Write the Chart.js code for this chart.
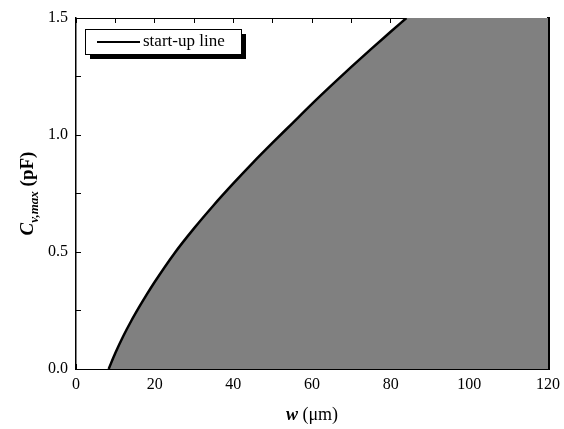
<!DOCTYPE html>
<html>
<head>
<meta charset="utf-8">
<script src="https://cdn.jsdelivr.net/npm/chart.js@4/dist/chart.umd.min.js"></script>
<style>
  body { margin: 0; background: #fff; }
</style>
</head>
<body>
<canvas id="startupChart" width="564" height="429"></canvas>
<script>
// values
var widths = [8.3, 10, 12, 14, 16, 18, 20, 25, 30, 35, 40, 45, 50, 55, 60, 65, 70, 75, 80, 84];
var cvMax  = [0, 0.068, 0.140, 0.204, 0.263, 0.319, 0.372, 0.494, 0.601, 0.700, 0.793, 0.882, 0.967, 1.050, 1.133, 1.213, 1.291, 1.367, 1.441, 1.5];
var seriesLabel = 'start-up line';
var xMin = 0, xMax = 120, xStep = 10, xLabelEvery = 20;
var yMin = 0, yMax = 1.5, yStep = 0.25, yLabelEvery = 0.5;

var serif = '"Liberation Serif", "Times New Roman", serif';
var shade = '#808080';

var curvePoints = widths.map(function (w, i) { return { x: w, y: cvMax[i] }; });
// shaded region: under the curve, then on to the end of the x axis
var regionPoints = curvePoints.concat([{ x: xMax, y: yMax }]);

// axis titles with subscript + framed legend with shadow
var extras = {
    id: 'extras',
    afterDraw: function (chart) {
        var c = chart.ctx, a = chart.chartArea;
        c.save();
        c.fillStyle = '#000';
        c.textBaseline = 'alphabetic';

        // x title
        var p1 = 'w', p2 = ' (\u03bcm)';
        c.font = 'bold italic 18px ' + serif;
        var w1 = c.measureText(p1).width;
        c.font = '18px ' + serif;
        var w2 = c.measureText(p2).width;
        var x0 = (a.left + a.right) / 2 - (w1 + w2) / 2;
        c.font = 'bold italic 18px ' + serif;
        c.fillText(p1, x0, 420);
        c.font = '18px ' + serif;
        c.fillText(p2, x0 + w1, 420);

        // y title, rotated
        c.translate(33, (a.top + a.bottom) / 2);
        c.rotate(-Math.PI / 2);
        var t1 = 'C', t2 = 'v,max', t3 = ' (pF)';
        c.font = 'bold italic 19px ' + serif;
        var m1 = c.measureText(t1).width;
        c.font = 'bold italic 13px ' + serif;
        var m2 = c.measureText(t2).width;
        c.font = 'bold 19px ' + serif;
        var m3 = c.measureText(t3).width;
        var s = -(m1 + m2 + m3) / 2;
        c.font = 'bold italic 19px ' + serif;
        c.fillText(t1, s, 0);
        c.font = 'bold italic 13px ' + serif;
        c.fillText(t2, s + m1, 5);
        c.font = 'bold 19px ' + serif;
        c.fillText(t3, s + m1 + m2, 0);
        c.restore();

        // legend box
        c.save();
        var bx = a.left + 9, by = a.top + 11, bw = 156, bh = 25;
        c.fillStyle = '#000';
        c.fillRect(bx + 5, by + 5, bw, bh);
        c.fillStyle = '#fff';
        c.fillRect(bx, by, bw, bh);
        c.strokeStyle = '#000';
        c.lineWidth = 1;
        c.strokeRect(bx + 0.5, by + 0.5, bw, bh);
        c.lineWidth = 2;
        c.beginPath();
        c.moveTo(bx + 12, by + 13);
        c.lineTo(bx + 55, by + 13);
        c.stroke();
        c.fillStyle = '#000';
        c.font = '17px ' + serif;
        c.textBaseline = 'middle';
        c.fillText(chart.data.datasets[0].label, bx + 58, by + 13);
        c.restore();
    }
};

var ctx = document.getElementById('startupChart').getContext('2d');
var chart = new Chart(ctx, {
    type: 'line',
    data: {
        datasets: [{
            label: seriesLabel,
            data: curvePoints,
            borderColor: '#000',
            borderWidth: 2.5,
            pointRadius: 0,
            fill: false,
            cubicInterpolationMode: 'monotone',
            order: 0
        }, {
            label: 'region',
            data: regionPoints,
            borderWidth: 0,
            borderColor: 'rgba(0,0,0,0)',
            backgroundColor: shade,
            pointRadius: 0,
            fill: 'origin',
            tension: 0,
            order: 1
        }]
    },
    plugins: [extras],
    options: {
        responsive: false,
        animation: false,
        layout: { padding: { top: 18, right: 16, left: 0, bottom: 0 } },
        plugins: {
            legend: { display: false },
            tooltip: { enabled: false }
        },
        scales: {
            x: {
                type: 'linear',
                position: 'bottom',
                min: xMin, max: xMax,
                border: { color: '#000', width: 1 },
                grid: { drawOnChartArea: false, tickLength: -5, color: '#000' },
                ticks: {
                    stepSize: xStep,
                    autoSkip: false,
                    maxRotation: 0,
                    padding: 11,
                    color: '#000',
                    font: { family: serif, size: 16 },
                    callback: function (v) { return v % xLabelEvery === 0 ? String(v) : ''; }
                },
                afterFit: function (s) { s.height = 60; s.paddingLeft = 0; s.paddingRight = 0; }
            },
            x2: {
                type: 'linear',
                position: 'top',
                min: xMin, max: xMax,
                border: { color: '#000', width: 1 },
                grid: { drawOnChartArea: false, tickLength: -5, color: '#000' },
                ticks: { stepSize: xStep, autoSkip: false, display: true, callback: function () { return ''; } },
                afterFit: function (s) { s.height = 0; s.paddingLeft = 0; s.paddingRight = 0; }
            },
            y: {
                type: 'linear',
                position: 'left',
                min: yMin, max: yMax,
                border: { color: '#000', width: 1.5 },
                grid: { drawOnChartArea: false, tickLength: -5, color: '#000' },
                ticks: {
                    stepSize: yStep,
                    autoSkip: false,
                    padding: 13,
                    color: '#000',
                    font: { family: serif, size: 16 },
                    callback: function (v) { return Math.abs(v / yLabelEvery - Math.round(v / yLabelEvery)) < 1e-9 ? v.toFixed(1) : ''; }
                },
                afterFit: function (s) { s.width = 76; s.paddingTop = 0; s.paddingBottom = 0; }
            },
            y2: {
                type: 'linear',
                position: 'right',
                min: yMin, max: yMax,
                z: 1,
                border: { color: '#000', width: 3 },
                grid: { display: true, drawOnChartArea: false, drawTicks: false },
                ticks: { display: false },
                afterFit: function (s) { s.width = 0; s.paddingTop = 0; s.paddingBottom = 0; }
            }
        }
    }
});
</script>
</body>
</html>
